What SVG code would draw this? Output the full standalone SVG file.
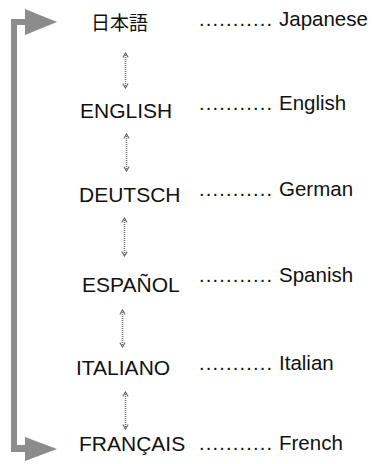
<svg xmlns="http://www.w3.org/2000/svg" width="372" height="464" viewBox="0 0 372 464">
<defs>
<marker id="ah" viewBox="0 0 8 8" refX="7" refY="4" markerWidth="7" markerHeight="7" orient="auto-start-reverse" markerUnits="userSpaceOnUse">
<path d="M2,1 L7,4 L2,7" fill="none" stroke="#666" stroke-width="1.2"/>
</marker>
<style>
.lab{font-family:"Liberation Sans",Arial,sans-serif;font-size:21px;fill:#111}
.cjk{font-family:"Liberation Sans","Noto Sans CJK JP",sans-serif;font-size:19px;fill:#111}
.dots{font-family:"Liberation Sans",Arial,sans-serif;font-size:20px;fill:#111;letter-spacing:1.2px}
.eng{font-family:"Liberation Sans",Arial,sans-serif;font-size:20.5px;fill:#111}
.link{stroke:#6a6a6a;stroke-width:1.5;stroke-dasharray:1 1;fill:none}
</style>
</defs>
<rect width="372" height="464" fill="#ffffff"/>
<g id="connectors">
<path id="bracket" d="M11,19 L25,19 L25,9 L57,22 L25,35 L25,25 L17,25 L17,445 L25,445 L25,437 L57,449 L25,461 L25,452 L11,452 Z" fill="#8c8c8c"/>
<line class="link" x1="125.5" y1="53" x2="125.5" y2="88" marker-start="url(#ah)" marker-end="url(#ah)"/>
<line class="link" x1="126.5" y1="134" x2="126.5" y2="171" marker-start="url(#ah)" marker-end="url(#ah)"/>
<line class="link" x1="124.5" y1="218" x2="124.5" y2="256" marker-start="url(#ah)" marker-end="url(#ah)"/>
<line class="link" x1="122.5" y1="310" x2="122.5" y2="347" marker-start="url(#ah)" marker-end="url(#ah)"/>
<line class="link" x1="125.5" y1="392" x2="125.5" y2="429" marker-start="url(#ah)" marker-end="url(#ah)"/>
</g>
<g id="node-ja">
<text class="cjk" x="91" y="30">日本語</text>
<text class="dots" x="199" y="26">...........</text>
<text class="eng" x="279" y="26">Japanese</text>
</g>
<g id="node-en">
<text class="lab" x="80" y="118">ENGLISH</text>
<text class="dots" x="199" y="110">...........</text>
<text class="eng" x="279" y="110">English</text>
</g>
<g id="node-de">
<text class="lab" x="79" y="202">DEUTSCH</text>
<text class="dots" x="199" y="196">...........</text>
<text class="eng" x="279" y="196">German</text>
</g>
<g id="node-es">
<text class="lab" x="82" y="292">ESPAÑOL</text>
<text class="dots" x="199" y="282">...........</text>
<text class="eng" x="279" y="282">Spanish</text>
</g>
<g id="node-it">
<text class="lab" x="76" y="375">ITALIANO</text>
<text class="dots" x="199" y="370">...........</text>
<text class="eng" x="279" y="370">Italian</text>
</g>
<g id="node-fr">
<text class="lab" x="79" y="451">FRANÇAIS</text>
<text class="dots" x="199" y="450">...........</text>
<text class="eng" x="279" y="450">French</text>
</g>
</svg>
